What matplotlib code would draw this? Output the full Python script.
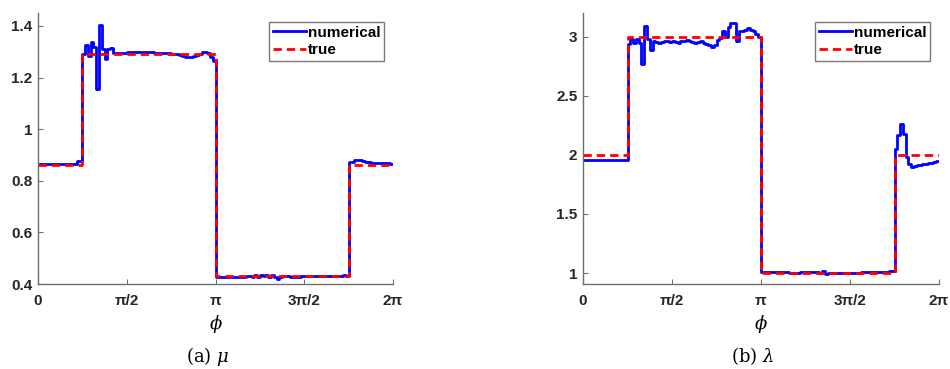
import matplotlib.pyplot as plt
import numpy as np

# numerical solution on a uniform 128-cell grid over [0, 2pi]
mu_num = (
    [0.866] * 14
    + [0.875, 0.875]
    + [1.29, 1.325, 1.285, 1.339, 1.32, 1.155, 1.405, 1.31, 1.27, 1.31, 1.315, 1.295]
    + [1.294, 1.295, 1.296, 1.296, 1.297, 1.297, 1.298, 1.298, 1.299, 1.299, 1.298,
       1.298, 1.297, 1.297, 1.296, 1.296, 1.295, 1.295, 1.294, 1.294, 1.293, 1.292]
    + [1.29, 1.287, 1.284, 1.281, 1.279, 1.278, 1.282, 1.287, 1.293, 1.298, 1.300,
       1.296, 1.28, 1.265]
    + [0.429, 0.428, 0.428, 0.429, 0.429, 0.428, 0.428, 0.429, 0.429, 0.428, 0.429, 0.430]
    + [0.432, 0.427, 0.433, 0.428, 0.436, 0.431, 0.434, 0.427, 0.433, 0.429, 0.42,
       0.428, 0.432]
    + [0.430, 0.430, 0.429, 0.429, 0.429, 0.429, 0.430, 0.430, 0.430, 0.430, 0.430,
       0.430, 0.431, 0.431, 0.431, 0.431, 0.432, 0.432, 0.432, 0.432, 0.432, 0.433, 0.432]
    + [0.873, 0.874, 0.879, 0.882, 0.879, 0.875, 0.872, 0.871, 0.870, 0.869, 0.868,
       0.868, 0.868, 0.869, 0.870, 0.866]
)

lam_num = (
    [1.952] * 16
    + [2.94, 2.98, 2.945, 2.98, 2.95, 2.77, 3.09, 2.98, 2.89, 2.96, 2.955, 2.95, 2.955,
       2.96, 2.965, 2.955, 2.96, 2.955, 2.95, 2.96, 2.965, 2.97, 2.96, 2.955, 2.95,
       2.955, 2.96, 2.95, 2.94]
    + [2.93, 2.915, 2.93, 2.97, 2.985, 3.05, 3.0, 3.08, 3.115, 3.115, 2.965, 3.05,
       3.05, 3.06, 3.07, 3.06, 3.045, 3.02, 2.995]
    + [1.008, 1.007, 1.007, 1.006, 1.006, 1.006, 1.005, 1.005, 1.005, 1.005, 1.004,
       1.004, 1.004, 1.004, 1.005, 1.005, 1.006, 1.006, 1.007, 1.008]
    + [1.012, 1.004, 1.013, 0.99, 1.003]
    + [1.004, 1.004, 1.003, 1.003, 1.003, 1.003, 1.003, 1.004, 1.004, 1.004, 1.004,
       1.005, 1.005, 1.005, 1.006, 1.006, 1.006, 1.007, 1.007, 1.008]
    + [1.01, 1.013, 1.02]
    + [2.05, 2.17, 2.265, 2.18, 1.98, 1.92, 1.895, 1.905, 1.91, 1.915, 1.92, 1.925,
       1.93, 1.935, 1.94, 1.945]
)

# exact piecewise constant parameters
true_edges = [0, np.pi / 4, np.pi, 7 * np.pi / 4, 2 * np.pi]
mu_true = [0.86, 1.29, 0.43, 0.86]
lam_true = [2.0, 3.0, 1.0, 2.0]

xticks = [0, np.pi / 2, np.pi, 3 * np.pi / 2, 2 * np.pi]
xticklabels = ["0", "π/2", "π", "3π/2", "2π"]
mu_yticks = [0.4, 0.6, 0.8, 1.0, 1.2, 1.4]
mu_yticklabels = ["0.4", "0.6", "0.8", "1", "1.2", "1.4"]
lam_yticks = [1, 1.5, 2, 2.5, 3]
lam_yticklabels = ["1", "1.5", "2", "2.5", "3"]

plt.rcParams["font.family"] = ["Liberation Sans", "DejaVu Sans"]
plt.rcParams["mathtext.fontset"] = "dejavuserif"

fig = plt.figure(figsize=(9.5, 3.69), dpi=100)
ax_mu = fig.add_axes([38 / 950, 1 - 284 / 369, 355 / 950, 271 / 369])
ax_lam = fig.add_axes([583 / 950, 1 - 284 / 369, 356 / 950, 271 / 369])

panels = [
    (ax_mu, mu_num, mu_true, (0.4, 1.45), mu_yticks, mu_yticklabels, 269),
    (ax_lam, lam_num, lam_true, (0.907, 3.2), lam_yticks, lam_yticklabels, 815),
]

for ax, num, true, ylim, yticks, yticklabels, leg_x in panels:
    edges = np.linspace(0, 2 * np.pi, len(num) + 1)
    ax.step(edges, num + [num[-1]], where="post", color="blue", lw=2, label="numerical")
    ax.step(true_edges, true + [true[-1]], where="post", color="red", lw=2,
            linestyle=(0, (3, 1.8)), label="true")
    ax.set_xlim(0, 2 * np.pi)
    ax.set_ylim(*ylim)
    ax.set_xticks(xticks)
    ax.set_xticklabels(xticklabels)
    ax.set_yticks(yticks)
    ax.set_yticklabels(yticklabels)
    for s in ["top", "right"]:
        ax.spines[s].set_visible(False)
    for s in ["left", "bottom"]:
        ax.spines[s].set_color("#6e6e6e")
        ax.spines[s].set_linewidth(1.0)
    ax.tick_params(direction="in", length=3.5, width=0.8, color="#6e6e6e",
                   labelcolor="#262626", labelsize=11)
    ax.tick_params(axis="x", pad=7)
    ax.tick_params(axis="y", pad=4)
    for lab in ax.get_xticklabels() + ax.get_yticklabels():
        lab.set_fontweight("bold")
    ax.set_xlabel(r"$\phi$", fontsize=13, labelpad=4)
    leg = ax.legend(loc="upper left", bbox_to_anchor=(leg_x / 950, 1 - 22 / 369),
                    bbox_transform=fig.transFigure, borderaxespad=0, fancybox=False,
                    handlelength=2.2, handletextpad=0.1, borderpad=0.25,
                    labelspacing=0.2, prop={"weight": "bold", "size": 11})
    leg.get_frame().set_edgecolor("#555555")
    leg.get_frame().set_linewidth(1.0)

fig.text(208 / 950, 1 - 356 / 369, r"(a) $\mu$", ha="center", va="center",
         fontsize=13, family="DejaVu Serif")
fig.text(753 / 950, 1 - 356 / 369, r"(b) $\lambda$", ha="center", va="center",
         fontsize=13, family="DejaVu Serif")

plt.savefig("out.png", dpi=100)
